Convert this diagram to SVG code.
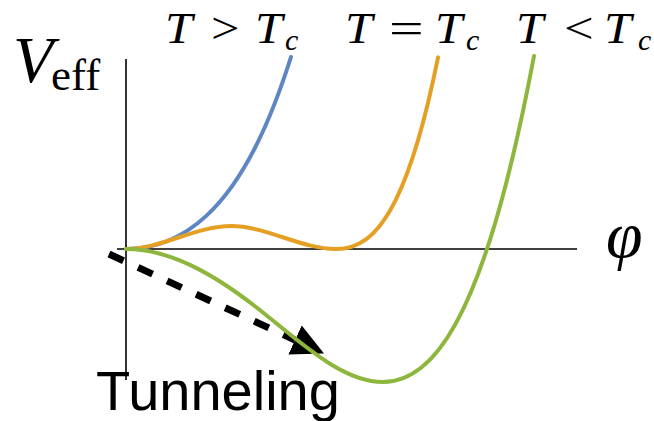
<svg xmlns="http://www.w3.org/2000/svg" width="654" height="421" viewBox="0 0 654 421">
<style>
.ax{stroke:#000;stroke-width:1.6;fill:none}
.cv{fill:none;stroke-width:4;stroke-linecap:round}
.m{font-family:"Liberation Serif","DejaVu Serif",serif;font-style:italic;fill:#000}
.r{font-family:"Liberation Serif","DejaVu Serif",serif;font-style:normal;fill:#000}
.t{font-size:44px}
.o{font-size:44px}
.s{font-size:30px}
.lbl{font-family:"Liberation Sans",Arial,sans-serif;fill:#000}
</style>
<defs>
<marker id="head" markerUnits="userSpaceOnUse" markerWidth="34" markerHeight="34" viewBox="0 0 34 34" refX="0" refY="16" orient="auto">
<path d="M0,0 L32,16 L0,32 Z" fill="#000"/>
</marker>
</defs>
<rect width="654" height="421" fill="#fff"/>
<g id="axes">
<line class="ax" x1="126" y1="59" x2="126" y2="380"/>
<line class="ax" x1="117" y1="249" x2="577" y2="249"/>
</g>
<g id="curve-above">
<path class="cv" stroke="#5E86C3" d="M126,249 C152.67,249 179.33,240.54 206,216.1 C222.67,200.83 239.33,179 256,145.83 C267.67,122.61 279.33,93.77 291,57"/>
</g>
<g id="curve-critical">
<path class="cv" stroke="#E5A024" d="M126,249 C161,249 196,226 231,226 C266,226 301,249 336,249 C356,249 376,239.81 396,199.35 C410,171.03 424,127.19 438,57.4"/>
</g>
<g id="connectors">
<line x1="109" y1="254" x2="295" y2="340" stroke="#000" stroke-width="7" stroke-dasharray="16 16" marker-end="url(#head)"/>
</g>
<g id="curve-below">
<path class="cv" stroke="#8CB63C" d="M126,249 C169.33,249 212.67,273.21 256,307 C298.33,340.01 340.67,382.03 383,382.03 C407.33,382.03 431.67,367.47 456,323.14 C472.67,292.78 489.33,248.36 506,183.92 C515.33,147.83 524.67,105.45 534,56"/>
</g>
<g id="label-veff">
<text class="m" x="13" y="82" font-size="66">V</text>
<text class="r" x="51" y="90" font-size="45">eff</text>
</g>
<g id="label-phi">
<text class="m" x="606" y="257" font-size="66">φ</text>
</g>
<g id="label-above">
<text class="m t" transform="translate(165,43) scale(1.12,1)">T</text>
<text class="r o" transform="translate(211,43) scale(1.15,1)">&gt;</text>
<text class="m t" transform="translate(255,43) scale(1.12,1)">T</text>
<text class="m s" x="285" y="50">c</text>
</g>
<g id="label-critical">
<text class="m t" transform="translate(345,43) scale(1.12,1)">T</text>
<text class="r o" transform="translate(389,43) scale(1.4,1)">=</text>
<text class="m t" transform="translate(435,43) scale(1.12,1)">T</text>
<text class="m s" x="466" y="50">c</text>
</g>
<g id="label-below">
<text class="m t" transform="translate(516,43) scale(1.12,1)">T</text>
<text class="r o" transform="translate(564,43) scale(1.2,1)">&lt;</text>
<text class="m t" transform="translate(604,43) scale(1.12,1)">T</text>
<text class="m s" x="638" y="50">c</text>
</g>
<g id="label-tunneling">
<text class="lbl" x="96" y="410" font-size="56">Tunneling</text>
</g>
</svg>
